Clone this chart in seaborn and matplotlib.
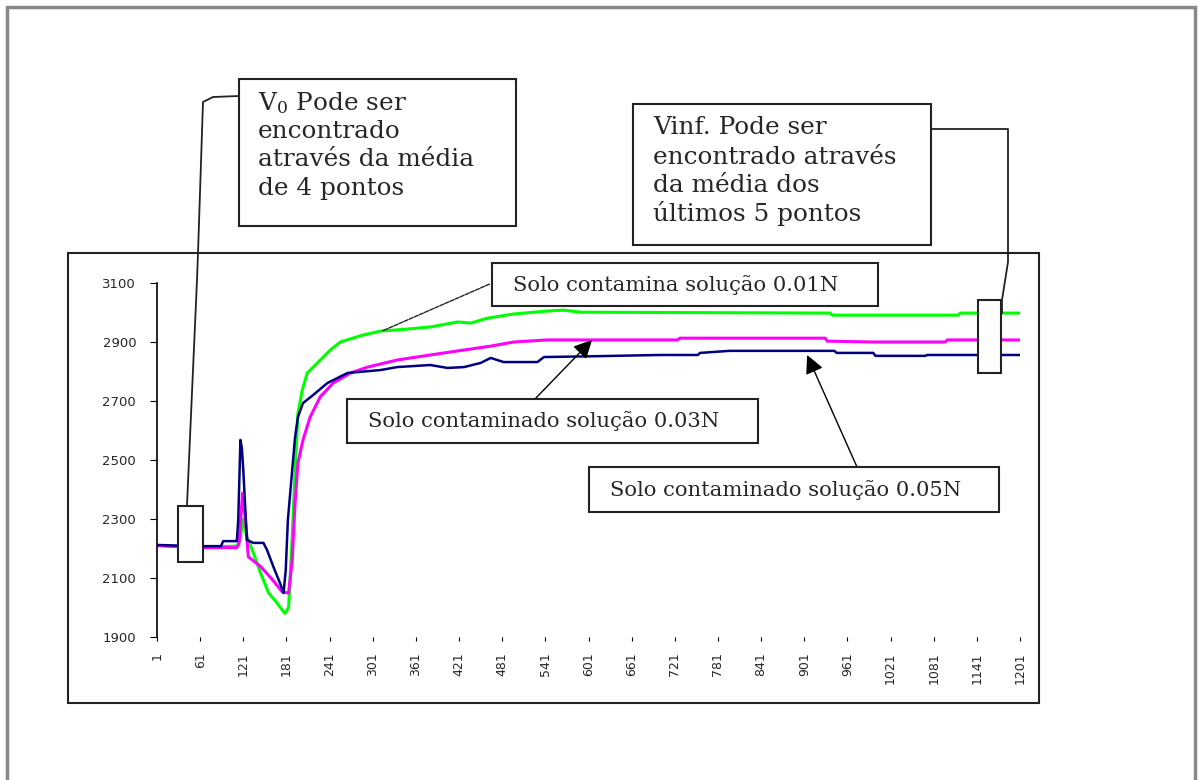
import numpy as np
import pandas as pd
import matplotlib
matplotlib.use("Agg")
import matplotlib.pyplot as plt
from matplotlib.patches import Rectangle
import seaborn as sns

# leituras (ponto, valor) tiradas do grafico
x_001 = [1, 60, 112, 117, 120, 126, 135, 145, 156, 168, 175, 179, 184, 189, 193, 197,
         203, 210, 224, 242, 256, 288, 312, 350, 381, 419, 437, 461, 497, 544, 566, 590,
         937, 940, 1115, 1118, 1201]
v_001 = [2210, 2205, 2208, 2230, 2300, 2240, 2185, 2117, 2050, 2015, 1992, 1980, 2000, 2240, 2466, 2659,
         2737, 2795, 2829, 2873, 2900, 2924, 2937, 2944, 2951, 2968, 2964, 2981, 2995, 3005, 3008, 3001,
         2998, 2991, 2991, 2998, 2998]

x_003 = [1, 55, 112, 115, 120, 124, 128, 145, 162, 175, 184, 189, 193, 197, 204, 214, 228,
         246, 270, 294, 335, 381, 428, 465, 497, 544, 725, 728, 930, 933, 995, 1097, 1100, 1201]
v_003 = [2210, 2203, 2203, 2215, 2388, 2297, 2172, 2139, 2093, 2053, 2049, 2161, 2354, 2490, 2568, 2646, 2714,
         2761, 2795, 2815, 2839, 2856, 2873, 2886, 2900, 2907, 2907, 2913, 2913, 2903, 2900, 2900, 2907, 2907]

x_005 = [1, 28, 62, 90, 93, 112, 114, 117, 119, 121, 126, 135, 149, 154, 163, 172, 177, 180, 183,
         189, 193, 197, 204, 218, 238, 266, 312, 335, 381, 405, 428, 451, 465, 483, 530, 539, 614,
         700, 753, 756, 797, 943, 946, 997, 1000, 1069, 1072, 1201]
v_005 = [2212, 2210, 2208, 2208, 2225, 2225, 2300, 2568, 2540, 2466, 2229, 2219, 2219, 2195, 2137, 2083, 2049, 2127, 2297,
         2466, 2578, 2646, 2693, 2720, 2761, 2795, 2805, 2815, 2822, 2812, 2815, 2829, 2846, 2832, 2832, 2849, 2852,
         2856, 2856, 2863, 2870, 2870, 2863, 2863, 2853, 2853, 2856, 2856]

xticks = list(range(1, 1202, 60))
yticks = [1900, 2100, 2300, 2500, 2700, 2900, 3100]

W, H = 1202, 780

sns.set_style("white")
plt.rcParams['mathtext.fontset'] = 'dejavuserif'
fig = plt.figure(figsize=(W / 100, H / 100), dpi=100)


def fx(px):
    return px / W


def fy(py):
    return 1 - py / H


ax = fig.add_axes([fx(157), fy(637), fx(1020) - fx(157), fy(283) - fy(637)])

df_005 = pd.DataFrame({"ponto": x_005, "valor": v_005})
df_003 = pd.DataFrame({"ponto": x_003, "valor": v_003})
df_001 = pd.DataFrame({"ponto": x_001, "valor": v_001})
sns.lineplot(data=df_001, x="ponto", y="valor", color="#00ff00", lw=2.2, ax=ax)
sns.lineplot(data=df_003, x="ponto", y="valor", color="#ff00ff", lw=2.2, ax=ax)
sns.lineplot(data=df_005, x="ponto", y="valor", color="#000080", lw=1.8, ax=ax)

ax.set_xlim(1, 1201)
ax.set_ylim(1900, 3100)
ax.set_xticks(xticks)
ax.set_xticklabels([str(t) for t in xticks], rotation=90, fontsize=9)
ax.set_yticks(yticks)
ax.set_yticklabels([str(t) for t in yticks], fontsize=9.5)
ax.set_xlabel("")
ax.set_ylabel("")
ax.tick_params(axis="x", length=3, pad=8, color="black", direction="out", bottom=True)
ax.tick_params(axis="y", length=5, pad=10, color="black", direction="out", left=True)
for s in ["top", "right", "bottom"]:
    ax.spines[s].set_visible(False)
ax.spines["left"].set_color("black")
ax.spines["left"].set_linewidth(1.2)
ax.patch.set_alpha(0)

# retangulos sobre os pontos usados nas medias
ax.add_patch(Rectangle((30, 2154), 35, 190, facecolor="white", edgecolor="#222222",
                       lw=1.5, zorder=5, clip_on=False))
ax.add_patch(Rectangle((1143, 2795), 32, 247, facecolor="white", edgecolor="#222222",
                       lw=1.5, zorder=5, clip_on=False))

# camada em pixels para caixas e textos
ov = fig.add_axes([0, 0, 1, 1], zorder=10)
ov.set_xlim(0, W)
ov.set_ylim(H, 0)
ov.axis("off")
ov.patch.set_alpha(0)

# moldura externa (sem lado de baixo)
ov.plot([7, 7, 1195, 1195], [780, 7, 7, 780], color="#888888", lw=2.5, solid_joinstyle="miter")
# area do grafico
ov.add_patch(Rectangle((68, 253), 1039 - 68, 703 - 253, fill=False, edgecolor="#222222", lw=1.5))


def box(x0, y0, x1, y1):
    ov.add_patch(Rectangle((x0, y0), x1 - x0, y1 - y0, facecolor="white",
                           edgecolor="#222222", lw=1.5, zorder=3))


serif = "DejaVu Serif"
fs_big = 17.8
fs = 15.2

box(239, 79, 516, 226)
for yy, line in zip([103, 132, 160, 188],
                    ["V$_0$ Pode ser", "encontrado", "através da média", "de 4 pontos"]):
    ov.text(258, yy, line, family=serif, fontsize=fs_big, va="center", ha="left", zorder=4)

box(633, 104, 931, 245)
for yy, line in zip([127, 157, 186, 214],
                    ["Vinf. Pode ser", "encontrado através", "da média dos", "últimos 5 pontos"]):
    ov.text(653, yy, line, family=serif, fontsize=fs_big, va="center", ha="left", zorder=4)

box(492, 263, 878, 306)
ov.text(513, 285, "Solo contamina solução 0.01N", family=serif, fontsize=fs, va="center", zorder=4)
box(347, 399, 758, 443)
ov.text(368, 421, "Solo contaminado solução 0.03N", family=serif, fontsize=fs, va="center", zorder=4)
box(589, 467, 999, 512)
ov.text(610, 490, "Solo contaminado solução 0.05N", family=serif, fontsize=fs, va="center", zorder=4)

# linhas de chamada
ov.plot([239, 213, 203, 198, 197, 187], [96, 97, 102, 253, 280, 505], color="#222222", lw=1.3)
ov.plot([931, 1008, 1008, 1002, 1002], [129, 129, 262, 300, 313], color="#222222", lw=1.3)
ax.annotate("", xy=(311, 2934), xycoords="data", xytext=(492, 283), textcoords=ov.transData,
            arrowprops=dict(arrowstyle="-", color="#222222", lw=1, linestyle=(0, (3, 1))),
            annotation_clip=False)
ax.annotate("", xy=(606, 2907), xycoords="data", xytext=(535, 399), textcoords=ov.transData,
            arrowprops=dict(arrowstyle="-|>", color="black", lw=1, mutation_scale=28,
                            shrinkA=0, shrinkB=0),
            annotation_clip=False)
ax.annotate("", xy=(905, 2856), xycoords="data", xytext=(857, 467), textcoords=ov.transData,
            arrowprops=dict(arrowstyle="-|>", color="black", lw=1, mutation_scale=28,
                            shrinkA=0, shrinkB=0),
            annotation_clip=False)

fig.savefig("out.png", dpi=100, facecolor="white")
